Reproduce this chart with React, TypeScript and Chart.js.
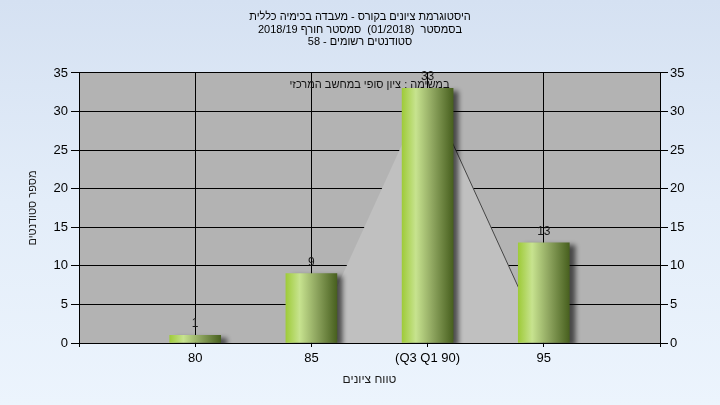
import React, { useEffect, useRef } from 'react';
import { Chart, registerables } from 'chart.js';

Chart.register(...registerables);

// ---- data ----
const categories: string[] = ['', '80', '85', '(Q3 Q1 90)', '95', ''];
const studentCounts: (number | null)[] = [null, 1, 9, 33, 13, null];
const distributionShape: (number | null)[] = [null, null, 0, 33, 0, null];
const yMin = 0;
const yMax = 35;
const yStep = 5;
const titleLines: string[] = [
  'היסטוגרמת ציונים בקורס - מעבדה בכימיה כללית',
  'בסמסטר  (01/2018)  סמסטר חורף 2018/19',
  'סטודנטים רשומים - 58',
];
const assignmentNote = 'במשימה : ציון סופי במחשב המרכזי';
const xAxisTitle = 'טווח ציונים';
const yAxisTitle = 'מספר סטודנטים';

const FONT = "'Liberation Sans', Arial, sans-serif";
const BAR_W = 51;

const chartDecor = {
  id: 'chartDecor',
  beforeDraw(chart: any) {
    const { ctx, chartArea: a } = chart;
    ctx.save();
    ctx.fillStyle = '#b3b3b3';
    ctx.fillRect(a.left, a.top, a.right - a.left, a.bottom - a.top);
    ctx.restore();
  },
  beforeDatasetDraw(chart: any, args: any) {
    if (args.meta.type === 'bar') {
      const ctx = chart.ctx;
      ctx.save();
      ctx.shadowColor = 'rgba(0,0,0,0.6)';
      ctx.shadowBlur = 5;
      ctx.shadowOffsetX = 6;
      ctx.shadowOffsetY = 3;
    }
  },
  afterDatasetDraw(chart: any, args: any) {
    if (args.meta.type === 'bar') {
      chart.ctx.restore();
    }
  },
  afterDatasetsDraw(chart: any) {
    const { ctx, chartArea: a, scales } = chart;
    ctx.save();
    ctx.font = `12px ${FONT}`;
    ctx.fillStyle = '#1a1a1a';
    ctx.textAlign = 'center';
    ctx.textBaseline = 'alphabetic';
    studentCounts.forEach((v, i) => {
      if (v === null) return;
      const x = scales.x.getPixelForValue(i);
      const y = scales.y.getPixelForValue(v);
      ctx.fillText(String(v), x, y - 8);
    });
    ctx.font = `11px ${FONT}`;
    ctx.fillStyle = '#111';
    ctx.textBaseline = 'middle';
    ctx.fillText(assignmentNote, (a.left + a.right) / 2, a.top + 12);
    ctx.restore();
  },
};

export default function App() {
  const ref = useRef<HTMLCanvasElement | null>(null);

  useEffect(() => {
    if (!ref.current) return;
    const chart = new Chart(ref.current, {
      type: 'bar',
      data: {
        labels: categories,
        datasets: [
          {
            type: 'bar',
            data: studentCounts,
            order: 1,
            barThickness: BAR_W,
            borderWidth: 0,
            backgroundColor: (c: any) => {
              const ch = c.chart;
              if (!ch.chartArea || c.type !== 'data' || !ch.scales.x) return '#9fcb3a';
              const x = ch.scales.x.getPixelForValue(c.dataIndex);
              const g = ch.ctx.createLinearGradient(x - BAR_W / 2, 0, x + BAR_W / 2, 0);
              g.addColorStop(0, '#9fcb3a');
              g.addColorStop(0.27, '#c7e38f');
              g.addColorStop(0.6, '#8ea55f');
              g.addColorStop(1, '#48601f');
              return g;
            },
          } as any,
          {
            type: 'line',
            data: distributionShape,
            order: 2,
            fill: 'origin',
            backgroundColor: '#c0c0c0',
            borderWidth: 1,
            borderColor: 'rgba(0,0,0,0)',
            pointRadius: 0,
            tension: 0,
            segment: {
              borderColor: (s: any) => (s.p0DataIndex === 3 ? '#454545' : 'rgba(0,0,0,0)'),
            },
          } as any,
        ],
      },
      options: {
        animation: false,
        responsive: false,
        devicePixelRatio: 1,
        layout: { padding: 0 },
        plugins: {
          legend: { display: false },
          tooltip: { enabled: false },
          title: {
            display: true,
            text: titleLines,
            color: '#000',
            font: { family: FONT, size: 11, weight: 'normal', lineHeight: 1.136 },
            padding: { top: 11, bottom: 24.5 },
          },
        },
        scales: {
          x: {
            type: 'category',
            offset: false,
            grid: {
              offset: false,
              color: '#000',
              lineWidth: 1,
              tickLength: 4,
              drawTicks: true,
            },
            border: { display: true, color: '#000', width: 1 },
            ticks: {
              color: '#000',
              font: { family: FONT, size: 13 },
              padding: 4,
              autoSkip: false,
              maxRotation: 0,
            },
            title: {
              display: true,
              text: xAxisTitle,
              color: '#1a1a1a',
              font: { family: FONT, size: 12 },
              padding: { top: 0, bottom: 18 },
            },
            afterFit: (s: any) => {
              s.height = 62;
            },
          },
          y: {
            position: 'left',
            min: yMin,
            max: yMax,
            grid: { color: '#000', lineWidth: 1, tickLength: 8 },
            border: { display: true, color: '#000', width: 1 },
            ticks: {
              stepSize: yStep,
              color: '#000',
              font: { family: FONT, size: 13 },
              padding: 3,
            },
            title: {
              display: true,
              text: yAxisTitle,
              color: '#1a1a1a',
              font: { family: FONT, size: 11 },
              padding: { top: 26, bottom: 0 },
            },
            afterFit: (s: any) => {
              s.width = 79;
            },
          },
          y2: {
            position: 'right',
            min: yMin,
            max: yMax,
            grid: { drawOnChartArea: false, color: '#000', lineWidth: 1, tickLength: 8 },
            border: { display: true, color: '#000', width: 1 },
            ticks: {
              stepSize: yStep,
              color: '#000',
              font: { family: FONT, size: 13 },
              padding: 2,
            },
            afterFit: (s: any) => {
              s.width = 60;
            },
          },
        },
      } as any,
      plugins: [chartDecor],
    });
    return () => chart.destroy();
  }, []);

  return (
    <div
      style={{
        position: 'absolute',
        left: 0,
        top: 0,
        width: 720,
        height: 405,
        background: 'linear-gradient(180deg, #d5e1f2 0%, #e3edf9 50%, #ecf4fd 100%)',
      }}
    >
      <canvas ref={ref} width={720} height={405} style={{ display: 'block' }} />
    </div>
  );
}
